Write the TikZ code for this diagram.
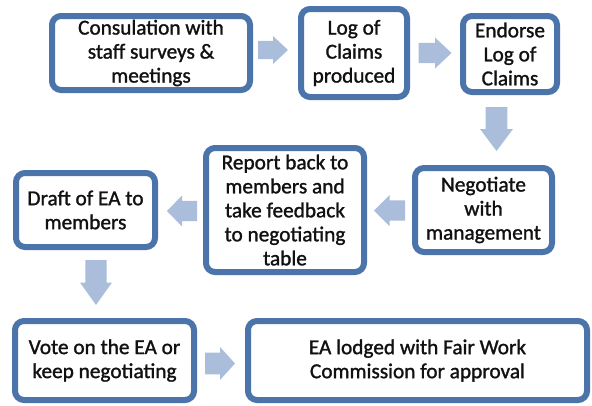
\documentclass[tikz,border=0pt]{standalone}
\usepackage{fontspec}
\setmainfont{Carlito}
\newfontfamily\boxfont[FakeBold=1.3]{Carlito}
\definecolor{bord}{HTML}{4A74AA}
\definecolor{arr}{HTML}{AABEDC}
\definecolor{txt}{HTML}{111111}
\tikzset{
  stepbox/.style={draw=bord, line width=6pt, rounded corners=9pt, fill=white,
    inner sep=0pt, align=center, text=txt,
    font=\boxfont\fontsize{21.3}{24}\selectfont},
  blockarrow/.style={fill=arr, draw=none},
}
% \barrow{name}{cx}{cy}{length}{headwidth}{angle}
\newcommand{\barrow}[6]{%
  \begin{scope}[shift={(#2,#3)}, rotate=#6]
    \coordinate (#1) at (0,0);
    \fill[blockarrow] (-#4/2,-0.33*#5) -- (0,-0.33*#5) -- (0,-#5/2) -- (#4/2,0)
      -- (0,#5/2) -- (0,0.33*#5) -- (-#4/2,0.33*#5) -- cycle;
  \end{scope}}
\begin{document}
\begin{tikzpicture}[x=1pt,y=-1pt]
\useasboundingbox[fill=white] (0,0) rectangle (592,405);
% boxes
\node[stepbox, minimum width=198, minimum height=74] (b1) at (151,53) {Consulation with\\staff surveys \&\\meetings};
\node[stepbox, minimum width=106, minimum height=88] (b2) at (354,53) {Log of\\Claims\\produced};
\node[stepbox, minimum width=94, minimum height=76] (b3) at (510,54) {Endorse\\Log of\\Claims};
\node[stepbox, minimum width=137, minimum height=84] (b4) at (483.5,210) {Negotiate\\with\\management};
\node[stepbox, minimum width=158, minimum height=124] (b5) at (285,210) {Report back to\\members and\\take feedback\\to negotiating\\table};
\node[stepbox, minimum width=139, minimum height=74] (b6) at (85.5,210) {Draft of EA to\\members};
\node[stepbox, minimum width=179, minimum height=79] (b7) at (104.5,360.5) {Vote on the EA or\\keep negotiating};
\node[stepbox, minimum width=339, minimum height=79] (b8) at (417.5,360.5) {EA lodged with Fair Work\\Commission for approval};
% block arrows
\barrow{a1}{273}{50}{30}{28}{0}
\barrow{a2}{435}{53}{33}{31}{0}
\barrow{a3}{496.5}{129}{44}{33}{-90}
\barrow{a4}{389.5}{210.5}{31}{31}{180}
\barrow{a5}{182}{211}{30}{31}{180}
\barrow{a6}{96}{282.5}{45}{32}{-90}
\barrow{a7}{220}{363.5}{30}{33}{0}
\end{tikzpicture}
\end{document}
